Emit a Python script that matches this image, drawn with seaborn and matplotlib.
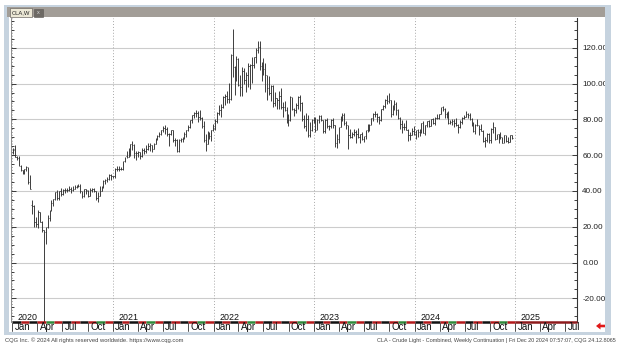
import matplotlib
matplotlib.use("Agg")
import matplotlib.pyplot as plt
import matplotlib.dates as mdates
import matplotlib.transforms as mtransforms
from matplotlib.patches import Rectangle, Polygon
from matplotlib.lines import Line2D
from matplotlib.ticker import MultipleLocator, FixedLocator, FuncFormatter
import numpy as np
import pandas as pd
import seaborn as sns
import datetime as dt

# ---------------- data (weekly OHLC, CLA weekly continuation) ----------------
o2020 = [61.7,63.7,59.0,58.6,54.0,51.6,50.3,52.1,53.4,44.8,32.0,31.7,22.4,21.5,28.3,22.8,18.3,17.0,19.8,24.7,29.4,33.3,35.5,39.6,36.3,39.8,38.5,40.6,40.6,40.6,41.3,40.3,41.2,42.0,42.3,42.9,39.8,37.3,41.1,40.2,37.1,40.6,40.9,39.9,35.8,37.1,40.1,42.2,45.5,46.3,46.6,49.1,48.2]
h2020 = [64.1,65.7,59.3,59.7,54.3,51.9,52.2,54.1,53.6,48.7,35.0,32.4,25.2,29.1,28.4,23.0,18.3,19.9,26.7,29.6,34.7,35.6,39.7,40.4,40.0,41.6,41.0,41.6,41.6,42.5,42.0,43.0,43.5,43.2,43.8,43.8,39.8,41.2,41.2,40.7,41.4,41.4,41.9,39.9,39.5,43.0,42.5,46.3,46.7,47.7,49.3,49.4,48.6]
l2020 = [60.6,58.7,57.4,53.9,51.3,49.3,49.4,51.0,44.0,41.0,27.3,20.1,20.0,19.3,22.6,17.3,-40.3,10.1,19.1,23.5,29.0,31.5,34.8,35.0,34.7,37.1,37.6,39.1,39.4,39.9,38.7,39.9,41.1,41.5,42.3,39.1,36.1,36.6,38.4,36.6,37.0,39.4,39.6,34.9,33.6,37.0,39.8,41.9,43.9,45.0,46.3,46.2,47.2]
c2020 = [63.1,59.0,58.5,54.2,51.6,50.3,52.1,53.4,44.8,41.3,31.7,22.4,21.5,28.3,22.8,18.3,16.9,19.8,24.7,29.4,33.3,35.5,39.6,36.3,39.8,38.5,40.7,40.6,40.6,41.3,40.3,41.2,42.0,42.3,43.0,39.8,37.3,41.1,40.3,37.1,40.6,40.9,39.9,35.8,37.1,40.1,42.2,45.5,46.3,46.6,49.1,48.2,48.5]

o2021 = [48.5,52.2,52.4,52.3,52.2,56.9,59.5,59.2,61.5,66.1,65.6,61.4,61.0,61.5,59.3,63.1,62.1,63.6,64.9,65.4,63.6,66.3,69.6,70.9,71.6,74.1,75.2,74.6,71.8,72.1,74.0,68.3,68.4,62.3,68.7,69.3,69.7,72.0,74.0,75.9,79.4,82.3,83.8,83.6,81.3,80.8,76.1,68.2,66.3,71.7,70.9,73.8]
h2021 = [52.8,53.9,53.8,53.6,57.0,58.9,62.3,63.8,66.4,68.0,66.4,62.3,62.3,61.6,63.8,64.0,65.5,66.8,66.7,65.7,67.0,69.8,71.0,73.0,74.2,76.2,77.0,75.5,72.3,74.1,74.0,69.5,69.1,69.1,69.8,70.0,73.1,74.0,76.7,79.8,82.2,84.0,85.4,84.9,85.0,81.2,79.2,71.6,73.3,72.9,73.9,77.4]
l2021 = [47.2,51.3,51.4,51.8,51.8,56.2,58.6,59.0,59.5,63.1,58.3,57.3,58.9,57.6,58.9,60.6,61.2,63.1,62.3,61.6,63.3,66.2,68.2,70.2,71.4,72.7,71.6,70.8,65.0,71.0,67.5,65.2,61.7,62.0,67.5,67.6,69.2,69.9,73.6,75.2,77.8,80.8,81.3,78.3,79.5,75.3,67.4,62.4,66.1,68.9,68.0,73.3]
c2021 = [52.2,52.4,52.3,52.2,56.9,59.5,59.2,61.5,66.1,65.6,61.4,61.0,61.5,59.3,63.1,62.1,63.6,64.9,65.4,63.6,66.3,69.6,70.9,71.6,74.1,75.2,74.6,71.8,72.1,74.0,68.3,68.4,62.3,68.7,69.3,69.7,72.0,74.0,75.9,79.4,82.3,83.8,83.6,81.3,80.8,76.1,68.2,66.3,71.7,70.9,73.8,75.2]

o2022 = [75.2,78.9,83.8,85.1,86.8,92.3,93.1,91.1,91.6,115.7,109.3,104.7,113.9,99.3,98.3,107.0,102.1,104.7,109.8,110.5,110.3,115.1,118.9,120.7,109.6,107.6,108.4,104.8,97.6,94.7,98.6,89.0,92.1,90.8,93.1,86.9,86.8,85.1,78.7,79.5,92.6,85.6,85.1,87.9,92.6,89.0,80.1,76.3,80.0,71.0,74.3,79.6]
h2022 = [80.2,84.0,87.9,88.8,93.2,94.0,95.8,100.5,116.6,130.5,110.0,115.4,114.0,105.0,109.0,108.6,106.5,111.4,110.9,115.0,115.1,120.0,123.7,123.7,112.0,114.0,111.4,105.0,104.0,99.0,99.0,95.1,92.2,95.6,97.7,89.9,90.0,86.9,82.8,93.0,92.6,86.5,89.1,92.9,93.7,89.5,82.6,83.3,82.7,78.3,80.3,81.5]
l2022 = [74.3,77.7,82.7,81.3,86.6,87.8,88.9,89.0,91.0,103.5,93.5,101.7,98.4,93.2,92.9,100.0,95.3,98.2,97.2,100.4,108.7,111.6,117.1,107.7,101.5,104.6,95.1,90.6,93.5,90.3,87.0,87.6,85.7,85.7,85.6,81.2,84.4,78.1,76.3,79.1,85.2,82.1,83.4,85.8,84.9,79.0,75.3,73.6,70.1,70.1,73.4,77.7]
c2022 = [78.9,83.8,85.1,86.8,92.3,93.1,91.1,91.6,115.7,109.3,104.7,113.9,99.3,98.3,107.0,102.1,104.7,109.8,110.5,110.3,115.1,118.9,120.7,109.6,107.6,108.4,104.8,97.6,94.7,98.6,89.0,92.1,90.8,93.1,86.9,86.8,85.1,78.7,79.5,92.6,85.6,85.1,87.9,92.6,89.0,80.1,76.3,80.0,71.0,74.3,79.6,80.3]

o2023 = [80.3,73.8,79.9,81.6,79.7,73.4,79.7,76.3,76.3,79.7,76.7,66.7,69.3,75.7,80.7,82.5,77.9,76.8,71.3,70.0,71.7,72.7,71.7,70.2,71.8,69.2,70.6,73.9,75.4,77.1,80.6,82.8,83.2,81.3,79.8,85.6,87.5,90.8,90.0,90.8,82.8,87.7,88.8,85.5,80.5,77.2,75.9,75.5,74.1,71.2,71.4,73.6]
h2023 = [81.5,80.0,82.4,82.7,79.9,80.0,80.6,77.0,80.1,81.0,77.0,71.7,75.7,81.8,83.5,83.3,79.2,76.9,74.7,72.9,74.7,73.9,75.1,72.1,72.7,70.9,74.0,77.3,77.2,80.9,83.5,84.9,83.6,81.8,86.0,87.9,91.2,93.7,95.0,90.9,87.8,90.8,89.5,85.9,81.5,79.7,78.0,79.7,74.4,72.7,75.3,76.2]
l2023 = [72.7,73.8,78.0,79.1,72.5,72.3,75.1,73.8,75.1,74.9,64.4,64.1,66.8,75.7,79.2,76.9,74.7,63.6,69.4,69.4,70.6,67.0,69.4,66.8,68.6,67.1,69.0,72.7,73.5,76.7,79.0,81.5,78.6,77.6,79.3,85.0,86.2,88.7,89.0,81.5,82.4,85.3,82.6,80.1,74.6,72.2,73.8,73.8,67.7,68.5,71.4,71.4]
c2023 = [73.8,79.9,81.6,79.7,73.4,79.7,76.3,76.3,79.7,76.7,66.7,69.3,75.7,80.7,82.5,77.9,76.8,71.3,70.0,71.7,72.7,71.7,70.2,71.8,69.2,70.6,73.9,75.4,77.1,80.6,82.8,83.2,81.3,79.8,85.6,87.5,90.8,90.0,90.8,82.8,87.7,88.8,85.5,80.5,77.2,75.9,75.5,74.1,71.2,71.4,73.6,71.7]

o2024 = [71.7,73.8,72.7,73.4,78.0,72.3,76.8,79.2,76.5,80.0,78.0,81.0,80.6,83.2,86.9,85.7,83.1,83.9,78.1,78.3,79.2,77.7,77.0,75.5,78.5,80.7,81.5,83.2,82.2,80.1,77.2,73.5,76.8,76.7,74.8,73.6,67.7,68.7,71.9,68.2,74.4,75.6,69.2,71.8,69.5,70.4,67.0,71.2,68.0,67.2,71.3]
h2024 = [74.2,74.4,74.5,78.2,79.3,77.0,79.2,79.6,80.0,80.9,81.5,83.1,83.2,87.1,87.6,86.3,84.2,84.5,79.9,80.0,80.1,80.6,77.3,79.4,81.4,82.6,84.5,83.6,83.6,80.9,78.8,77.3,80.3,76.8,77.6,74.0,70.0,72.6,72.4,74.9,78.5,75.9,72.0,71.9,72.8,70.4,71.3,71.4,70.3,71.4,71.4]
l2024 = [69.3,70.1,70.6,72.4,72.3,71.4,75.6,76.0,76.1,77.5,76.9,80.4,80.1,82.8,84.5,80.7,80.7,77.6,77.5,76.7,76.0,76.4,72.5,75.4,77.6,80.0,81.2,80.8,79.6,76.4,73.0,71.7,76.1,71.5,73.3,67.2,64.8,67.6,67.0,66.6,72.6,68.6,69.0,66.8,69.0,66.9,66.7,67.4,66.9,67.2,68.9]
c2024 = [73.8,72.7,73.4,78.0,72.3,76.8,79.2,76.5,80.0,78.0,81.0,80.6,83.2,86.9,85.7,83.1,83.9,78.1,78.3,79.2,77.7,77.0,75.5,78.5,80.7,81.5,83.2,82.2,80.1,77.2,73.5,76.8,76.7,74.8,73.6,67.7,68.7,71.9,68.2,74.4,75.6,69.2,71.8,69.5,70.4,67.0,71.2,68.0,67.2,71.3,69.5]

first_week = "2020-01-03"
price_ticks = [-20, 0, 20, 40, 60, 80, 100, 120]
years = [2020, 2021, 2022, 2023, 2024, 2025]
quarter_labels = ["Jan", "Apr", "Jul", "Oct"]
quarter_months = [1, 4, 7, 10]
title_tab = "CLA,W"
footer_left = "CQG Inc. \u00a9 2024 All rights reserved worldwide. https://www.cqg.com"
footer_right = "CLA - Crude Light - Combined, Weekly Continuation | Fri Dec 20 2024 07:57:07, CQG 24.12.8065"

opens = o2020 + o2021 + o2022 + o2023 + o2024
highs = h2020 + h2021 + h2022 + h2023 + h2024
lows = l2020 + l2021 + l2022 + l2023 + l2024
closes = c2020 + c2021 + c2022 + c2023 + c2024

df = pd.DataFrame({
    "date": pd.date_range(first_week, periods=len(closes), freq="W-FRI"),
    "open": opens, "high": highs, "low": lows, "close": closes,
})

# ---------------- figure ----------------
sns.set_theme(style="white")
plt.rcParams["font.family"] = ["Liberation Sans", "DejaVu Sans"]

W, H = 620, 348
fig = plt.figure(figsize=(W / 100, H / 100), dpi=100)
fig.patch.set_facecolor("white")

def fx(x):
    return x / W

def fy(y):
    return 1 - y / H

def frect(x0, y0, x1, y1, **kw):
    fig.add_artist(Rectangle((fx(x0), fy(y1)), (x1 - x0) / W, (y1 - y0) / H,
                             transform=fig.transFigure, **kw))

# window frame
frame_c = "#c6d3df"
frect(4, 5, 611, 7, color=frame_c, lw=0)
frect(4, 5, 8.5, 335, color=frame_c, lw=0)
frect(605, 5, 611, 335, color=frame_c, lw=0)
frect(4, 332, 611, 335, color=frame_c, lw=0)
# header bar
frect(7, 7, 605, 17, color="#a29d97", lw=0)
frect(10, 8.5, 32, 17, facecolor="#ece8d6", edgecolor="#6f6a65", lw=0.5)
fig.text(fx(21), fy(12.9), title_tab, fontsize=4.2, ha="center", va="center", color="#222")
frect(34, 9, 43, 17, facecolor="#6d6964", edgecolor="#5a5652", lw=0.4)
fig.text(fx(38.5), fy(13), "x", fontsize=4, ha="center", va="center", color="#d8d8d8")

# main axes
top_px, bot_px, left_px, right_px = 17.5, 322, 11, 577
ax = fig.add_axes([fx(left_px), fy(bot_px), (right_px - left_px) / W, (bot_px - top_px) / H])
ax.set_facecolor("white")

x0 = mdates.date2num(dt.datetime(2019, 12, 27))
x1 = mdates.date2num(dt.datetime(2025, 8, 13))
ax.set_xlim(x0, x1)
ax.set_ylim(-33.2, 136.9)

# grid
for v in price_ticks:
    ax.axhline(v, color="#cccccc", lw=0.8, zorder=0)
for yr in years:
    ax.axvline(mdates.date2num(dt.datetime(yr, 1, 1)), color="#a8a8a8", lw=0.7,
               ls=(0, (1, 2)), zorder=0)
qx, qy = [], []
for yr in years:
    for m in (4, 7, 10):
        d = mdates.date2num(dt.datetime(yr, m, 1))
        if d < x1:
            for v in range(-30, 136, 20):
                qx.append(d)
                qy.append(v)
ax.scatter(qx, qy, s=0.5, color="#c4c4c4", marker="s", lw=0, zorder=0)

# OHLC bars
xd = mdates.date2num(df["date"])
bar_c = "#303030"
half = 2.6
ax.vlines(xd, df["low"], df["high"], color=bar_c, lw=0.65, zorder=3)
ax.hlines(df["open"], xd - half, xd, color=bar_c, lw=0.6, zorder=3)
ax.hlines(df["close"], xd, xd + half, color=bar_c, lw=0.6, zorder=3)

# y axis (right labels, ticks both sides)
ax.yaxis.set_major_locator(FixedLocator(price_ticks))
ax.yaxis.set_minor_locator(MultipleLocator(5))
ax.yaxis.set_major_formatter(FuncFormatter(lambda v, p: f"{v:.2f}"))
ax.tick_params(axis="y", which="both", left=True, right=True, labelleft=False,
               labelright=True, direction="in", colors="#222222", width=0.6)
ax.tick_params(axis="y", which="major", length=3.5, labelsize=5.9, pad=3.8)
ax.tick_params(axis="y", which="minor", length=2.2)
ax.set_xticks([])
for s in ("top", "bottom"):
    ax.spines[s].set_visible(False)
ax.spines["right"].set_color("#333333")
ax.spines["right"].set_linewidth(0.8)
ax.spines["left"].set_color("#777777")
ax.spines["left"].set_linewidth(0.6)

# bottom colored band (per month)
band_tr = mtransforms.blended_transform_factory(ax.transData, ax.transAxes)
band_cols = ["#111111", "#b3191b", "#111111", "#b3191b", "#2f8a3a", "#b3191b"]
k = 0
for yr in range(2020, 2025):
    for m in range(1, 13):
        a = mdates.date2num(dt.datetime(yr, m, 1))
        b = mdates.date2num(dt.datetime(yr + (m == 12), m % 12 + 1, 1))
        ax.add_line(Line2D([max(a, x0), b], [0, 0], transform=band_tr, color=band_cols[k % 6],
                           lw=1.8, clip_on=False, solid_capstyle="butt", zorder=5))
        k += 1
ax.add_line(Line2D([mdates.date2num(dt.datetime(2025, 1, 1)), x1], [0, 0], transform=band_tr,
                   color="#8e1a1c", lw=1.8, clip_on=False, solid_capstyle="butt", zorder=5))

# month / year labels
lab_tr = mtransforms.blended_transform_factory(ax.transData, fig.transFigure)
for yr in years:
    for lab, m in zip(quarter_labels, quarter_months):
        d = mdates.date2num(dt.datetime(yr, m, 1))
        if d >= x1:
            continue
        fig.add_artist(Line2D([d, d], [fy(322.5), fy(330.5)], transform=lab_tr, color="#333333", lw=0.6))
        t = mtransforms.offset_copy(lab_tr, fig=fig, x=2.2, y=0, units="dots")
        fig.text(d, fy(327.3), lab, transform=t, fontsize=7, ha="left", va="center", color="#111111")
    dj = mdates.date2num(dt.datetime(yr, 1, 1))
    t2 = mtransforms.offset_copy(lab_tr, fig=fig, x=5.5, y=0, units="dots")
    fig.text(dj, fy(317.3), str(yr), transform=t2, fontsize=6.4, ha="left", va="center", color="#111111")

# red arrow
arrow = [(596, 326), (600.5, 322.5), (600.5, 324.7), (605, 324.7), (605, 327.3), (600.5, 327.3), (600.5, 329.5)]
fig.add_artist(Polygon([(fx(a), fy(b)) for a, b in arrow], closed=True, transform=fig.transFigure,
                       facecolor="#e01818", edgecolor="none"))

# footers
fig.text(fx(5), fy(340.5), footer_left, fontsize=4.2, ha="left", va="center", color="#444444")
fig.text(fx(616), fy(340.5), footer_right, fontsize=3.95, ha="right", va="center", color="#444444")

fig.savefig("out.png", dpi=100)
